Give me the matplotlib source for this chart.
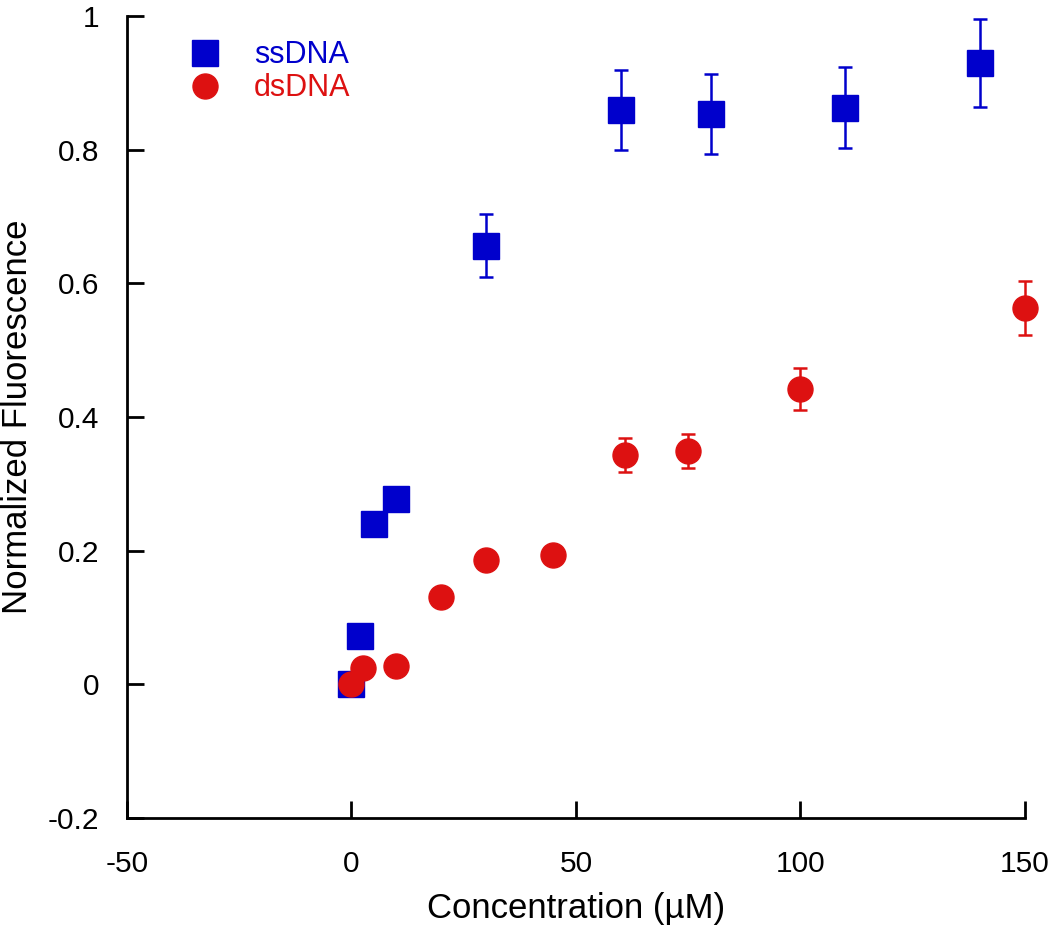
import matplotlib
matplotlib.use("Agg")
from matplotlib import pyplot as plt

plt.rcParams['font.family'] = ['Liberation Sans', 'DejaVu Sans']
plt.rcParams['axes.unicode_minus'] = False

# ssDNA series
ss_x = [0, 2, 5, 10, 30, 60, 80, 110, 140]
ss_y = [0.0, 0.072, 0.24, 0.278, 0.656, 0.859, 0.853, 0.863, 0.93]
ss_err = [0, 0, 0, 0, 0.047, 0.06, 0.06, 0.06, 0.066]

# dsDNA series
ds_x = [0, 2.5, 10, 20, 30, 45, 61, 75, 100, 150]
ds_y = [0.0, 0.024, 0.028, 0.13, 0.186, 0.194, 0.343, 0.349, 0.442, 0.563]
ds_err = [0, 0, 0, 0, 0, 0, 0.025, 0.026, 0.032, 0.04]

blue = "#0000cc"
red = "#dd1111"

fig = plt.figure(figsize=(10.5, 9.31), dpi=100)
ax = fig.add_axes([0.121, 0.1214, 0.855, 0.8614])

ax.errorbar(ss_x, ss_y, yerr=ss_err, fmt="s", color=blue, ms=19, mec=blue,
            ecolor=blue, elinewidth=1.8, capsize=5, capthick=1.8,
            label="ssDNA", clip_on=False, zorder=3)
ax.errorbar(ds_x, ds_y, yerr=ds_err, fmt="o", color=red, ms=18, mec=red,
            ecolor=red, elinewidth=1.8, capsize=5, capthick=1.8,
            label="dsDNA", clip_on=False, zorder=3)

ax.set_xlim(-50, 150)
ax.set_ylim(-0.2, 1)
ax.set_xticks([-50, 0, 50, 100, 150])
ax.set_yticks([-0.2, 0, 0.2, 0.4, 0.6, 0.8, 1])
ax.set_yticklabels(["-0.2", "0", "0.2", "0.4", "0.6", "0.8", "1"])

for s in ["top", "right"]:
    ax.spines[s].set_visible(False)
for s in ["left", "bottom"]:
    ax.spines[s].set_linewidth(2)
ax.tick_params(direction="in", length=12, width=2, labelsize=21.5)
ax.tick_params(axis="x", pad=23)
ax.tick_params(axis="y", pad=20)

ax.set_xlabel("Concentration (µM)", fontsize=25, labelpad=10)
ax.set_ylabel("Normalized Fluorescence", fontsize=25, labelpad=10)

handles, labels = ax.get_legend_handles_labels()
handles = [h[0] for h in handles]  # marker only, no error bars
leg = ax.legend(handles, labels, loc="upper left", bbox_to_anchor=(0.022, 1.004),
                frameon=False, fontsize=22, handletextpad=0.6, labelspacing=0.1)
for txt, c in zip(leg.get_texts(), [blue, red]):
    txt.set_color(c)

fig.savefig("out.png", dpi=100)
